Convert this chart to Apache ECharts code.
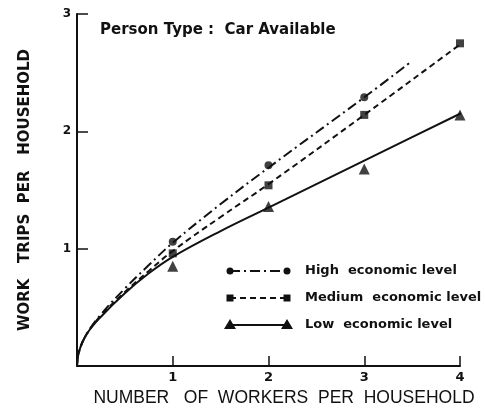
<!DOCTYPE html>
<html><head><meta charset="utf-8">
<script src="https://cdn.jsdelivr.net/npm/echarts@6/dist/echarts.min.js"></script>
<style>html,body{margin:0;padding:0;background:#fff}#c{width:485px;height:410px}</style>
</head><body><div id="c"></div>
<script>
// Observed points (markers)
const workers = [1, 2, 3, 4];
const highPts = [1.06, 1.71, 2.29];
const medPts = [0.96, 1.54, 2.14, 2.75];
const lowPts = [0.85, 1.36, 1.68, 2.14];
// Fitted curves [x, y]
const highCurve = [[0,0],[0.02,0.12],[0.1,0.27],[0.25,0.44],[0.5,0.66],[0.75,0.86],[1,1.05],[1.5,1.38],[2,1.69],[3,2.29],[3.5,2.6]];
const medCurve = [[0,0],[0.02,0.12],[0.1,0.27],[0.25,0.43],[0.5,0.63],[0.75,0.81],[1,0.98],[1.5,1.27],[2,1.55],[3,2.14],[4,2.74],[4.15,2.83]];
const lowCurve = [[0,0],[0.02,0.12],[0.1,0.27],[0.25,0.42],[0.5,0.62],[0.75,0.79],[1,0.93],[1.5,1.15],[2,1.35],[3,1.75],[4,2.15],[4.25,2.25]];
const yTicks = [1, 2, 3];
const xTicks = [1, 2, 3, 4];
const legendNames = ['High  economic level', 'Medium  economic level', 'Low  economic level'];
const xTitle = 'NUMBER   OF  WORKERS  PER  HOUSEHOLD';
const yTitle = 'WORK   TRIPS  PER   HOUSEHOLD';
const note = 'Person Type :  Car Available';

const chart = echarts.init(document.getElementById('c'));
const K = '#111';
const pair = (xs, ys) => ys.map((v, i) => [xs[i], v]);
const lib = 'Liberation Sans';
const wide = 'DejaVu Sans';

function legendItem(y, dash, symbol, name) {
  const x0 = 230, x1 = 287;
  const els = [{type:'line', shape:{x1:x0, y1:y, x2:x1, y2:y}, style:{stroke:K, lineWidth:2, lineDash:dash}}];
  [x0, x1].forEach(x => {
    if (symbol === 'circle') els.push({type:'circle', shape:{cx:x, cy:y, r:3.5}, style:{fill:K}});
    else if (symbol === 'rect') els.push({type:'rect', shape:{x:x-3.5, y:y-3.5, width:7, height:7}, style:{fill:K}});
    else els.push({type:'polygon', shape:{points:[[x, y-6],[x-6, y+4],[x+6, y+4]]}, style:{fill:K}});
  });
  els.push({type:'text', style:{x:305, y:y, text:name, fill:K, fontSize:13, fontWeight:'bold', fontFamily:wide, verticalAlign:'middle'}});
  return els;
}

chart.setOption({
  animation: false,
  backgroundColor: '#fff',
  grid: {left: 77, right: 25, top: 14, bottom: 44},
  xAxis: {
    type: 'value', min: 0, max: 4, interval: 1,
    axisLine: {lineStyle: {color: K, width: 2}},
    axisTick: {inside: true, length: 10, lineStyle: {color: K, width: 1.5}},
    axisLabel: {color: K, fontSize: 13, fontWeight: 'bold', fontFamily: wide, margin: 5,
      formatter: v => xTicks.includes(v) ? String(v) : ''},
    splitLine: {show: false}
  },
  yAxis: {
    type: 'value', min: 0, max: 3, interval: 1,
    axisLine: {show: true, lineStyle: {color: K, width: 2}},
    axisTick: {show: true, inside: true, length: 11, lineStyle: {color: K, width: 1.5}},
    axisLabel: {color: K, fontSize: 12, fontWeight: 'bold', fontFamily: wide, margin: 6,
      formatter: v => yTicks.includes(v) ? String(v) : ''},
    splitLine: {show: false}
  },
  series: [
    {type: 'line', data: highCurve, smooth: 0.4, showSymbol: false, clip: false,
     lineStyle: {color: K, width: 2, type: [10, 4, 2, 4]}},
    {type: 'line', data: medCurve, smooth: 0.4, showSymbol: false, clip: false,
     lineStyle: {color: K, width: 2, type: [6, 4]}},
    {type: 'line', data: lowCurve, smooth: 0.4, showSymbol: false, clip: false,
     lineStyle: {color: K, width: 2, type: 'solid'}},
    {type: 'scatter', data: pair(workers, highPts), symbol: 'circle', symbolSize: 8, itemStyle: {color: K}},
    {type: 'scatter', data: pair(workers, medPts), symbol: 'rect', symbolSize: 8, itemStyle: {color: K}},
    {type: 'scatter', data: pair(workers, lowPts), symbol: 'triangle', symbolSize: 11, itemStyle: {color: K}}
  ],
  graphic: [
    {type: 'text', style: {x: 100, y: 30, text: note, fill: K, fontSize: 15, fontWeight: 'bold', fontFamily: wide, verticalAlign: 'middle'}},
    {type: 'text', x: 284, y: 398, style: {text: xTitle, fill: K, fontSize: 17.5, fontFamily: lib, align: 'center', verticalAlign: 'middle'}},
    {type: 'text', x: 25, y: 190, rotation: Math.PI / 2, style: {text: yTitle, fill: K, fontSize: 15, fontWeight: 'bold', fontFamily: wide, align: 'center', verticalAlign: 'middle'}},
    ...legendItem(271, [10, 4, 2, 4], 'circle', legendNames[0]),
    ...legendItem(298, [6, 4], 'rect', legendNames[1]),
    ...legendItem(325, null, 'triangle', legendNames[2])
  ]
});
</script></body></html>
